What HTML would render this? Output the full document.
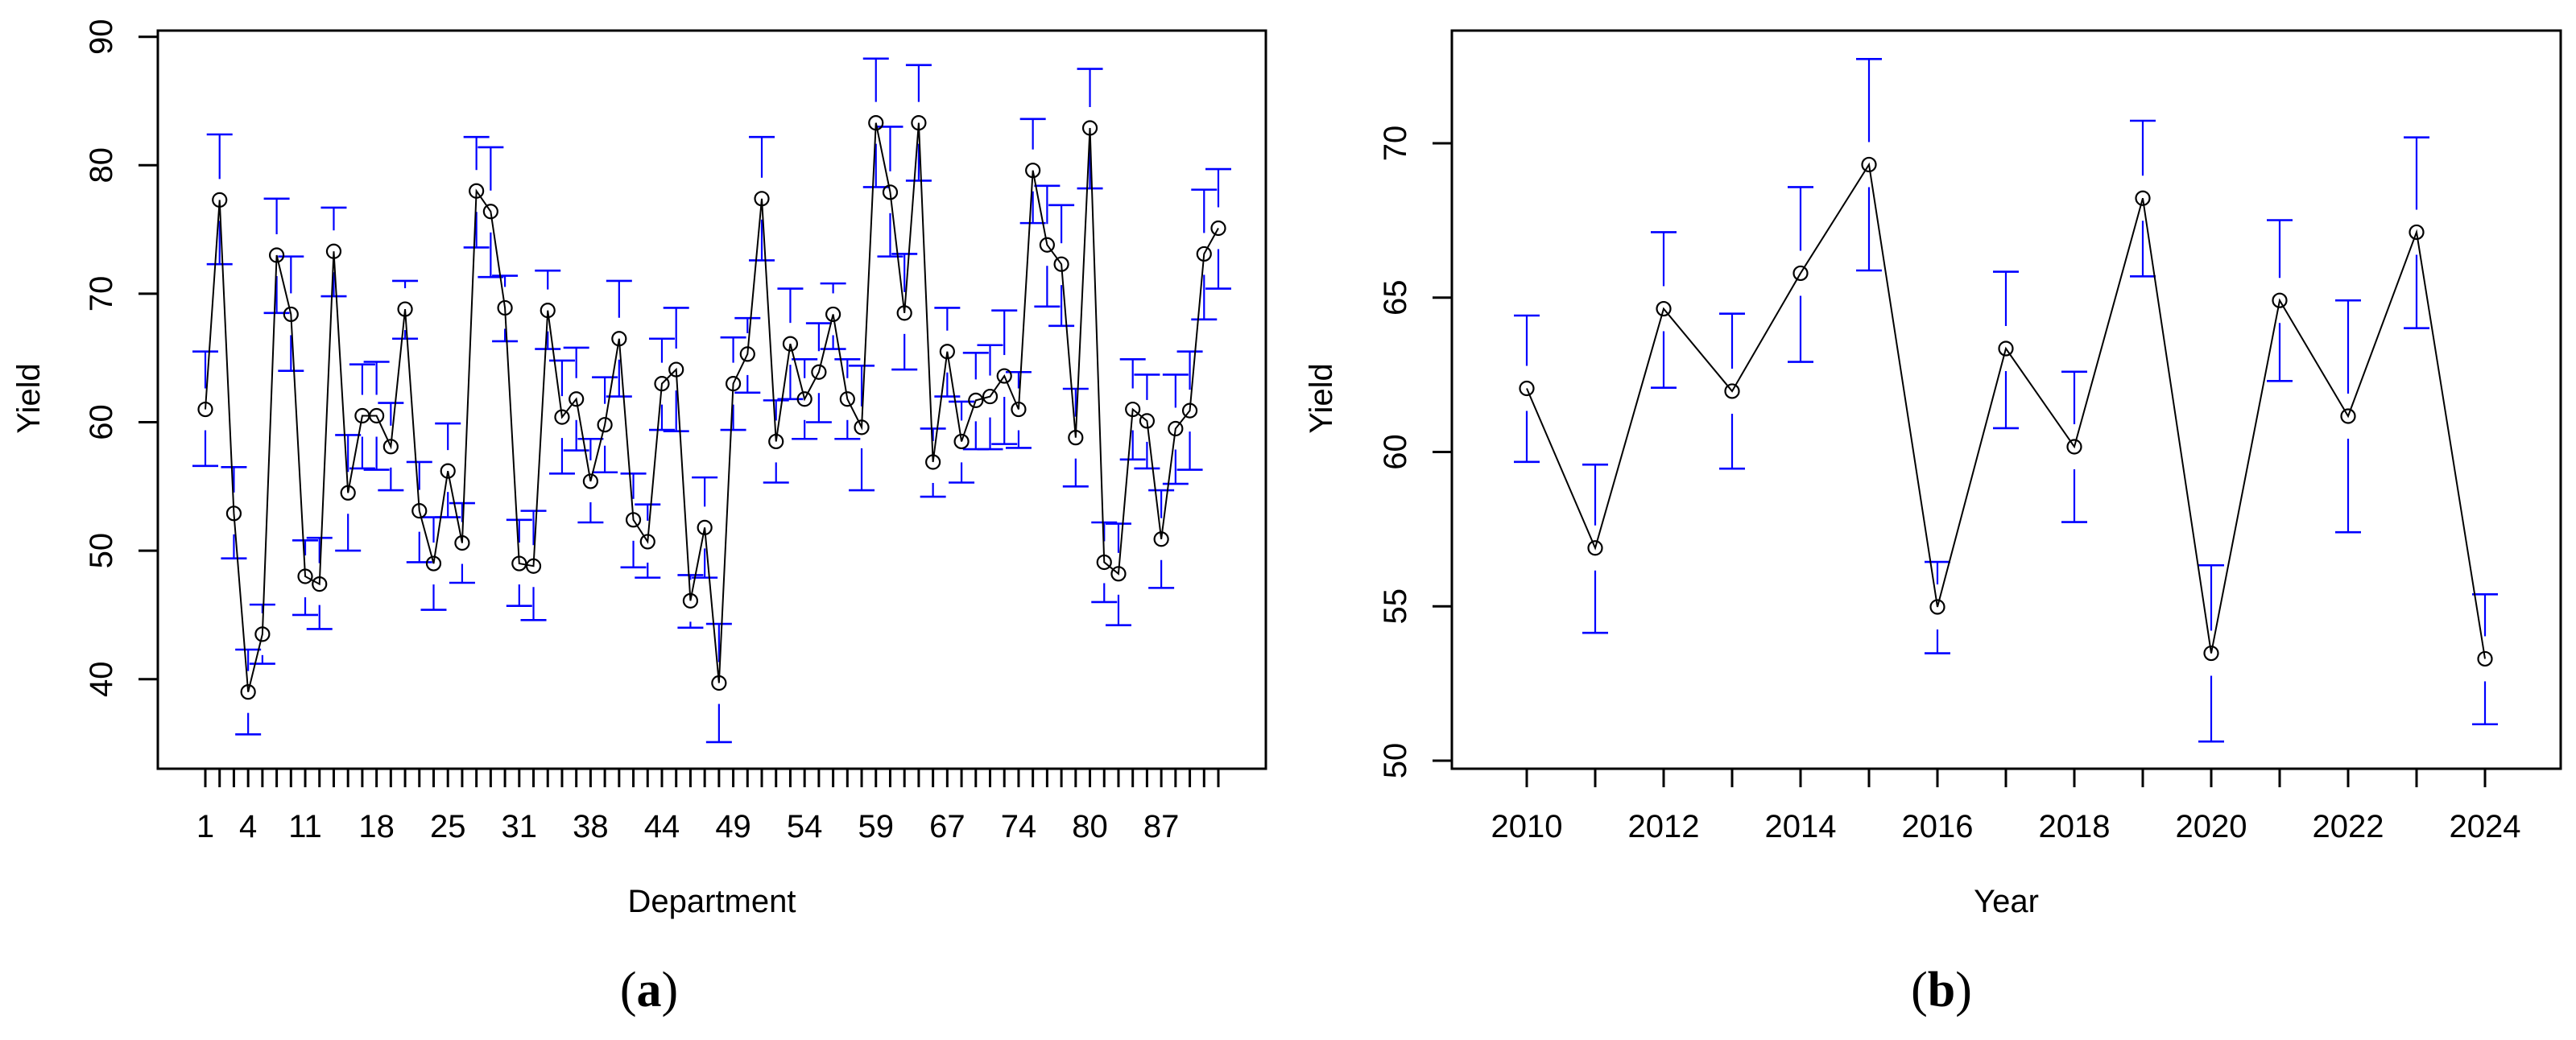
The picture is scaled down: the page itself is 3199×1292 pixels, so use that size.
<!DOCTYPE html>
<html><head><meta charset="utf-8"><style>
html,body{margin:0;padding:0;background:#fff;}
svg{display:block;font-family:"Liberation Sans",sans-serif;}
</style></head><body>
<svg id="fig" width="3199" height="1292" viewBox="0 0 3199 1292" xmlns="http://www.w3.org/2000/svg">
<g id="pa"></g>
<g id="pb"></g>
</svg>
<script>
// Panel (a): department yields
const deptTickIdx = [0,3,7,12,17,22,27,32,37,42,47,52,57,62,67];
const deptTickLabels = ["1","4","11","18","25","31","38","44","49","54","59","67","74","80","87"];
const deptMean = [61.0,77.3,52.9,39.0,43.5,73.0,68.4,48.0,47.4,73.3,54.5,60.5,60.5,58.1,68.8,53.1,49.0,56.2,50.6,78.0,76.4,68.9,49.0,48.8,68.7,60.4,61.8,55.4,59.8,66.5,52.4,50.7,63.0,64.1,46.1,51.8,39.7,63.0,65.3,77.4,58.5,66.1,61.8,63.9,68.4,61.8,59.6,83.3,77.9,68.5,83.3,56.9,65.5,58.5,61.7,62.0,63.6,61.0,79.6,73.8,72.3,58.8,82.9,49.1,48.2,61.0,60.1,50.9,59.5,60.9,73.1,75.1];
const deptUpper = [65.5,82.4,56.5,42.3,45.8,77.4,72.9,50.8,51.0,76.7,59.0,64.5,64.7,61.5,71.0,56.9,52.6,59.9,53.7,82.2,81.4,71.4,52.4,53.1,71.8,64.8,65.8,58.7,63.5,71.0,56.0,53.6,66.5,68.9,48.1,55.7,44.3,66.6,68.1,82.2,61.7,70.4,64.9,67.7,70.8,64.9,64.4,88.3,83.0,73.1,87.8,59.5,68.9,61.6,65.4,66.0,68.7,63.9,83.6,78.4,76.9,62.6,87.5,52.2,52.1,64.9,63.7,54.7,63.7,65.5,78.1,79.7];
const deptLower = [56.6,72.3,49.4,35.7,41.2,68.5,64.0,45.0,43.9,69.8,50.0,56.4,56.3,54.7,66.5,49.1,45.4,52.6,47.5,73.6,71.3,66.3,45.7,44.6,65.7,56.0,57.8,52.2,56.1,62.0,48.7,47.9,59.4,59.3,44.0,47.9,35.1,59.4,62.3,72.6,55.3,61.8,58.7,60.0,65.7,58.7,54.7,78.3,72.9,64.1,78.8,54.2,62.0,55.3,57.9,57.9,58.3,58.0,75.5,69.0,67.5,55.0,78.2,46.0,44.2,57.1,56.4,47.1,55.2,56.3,68.0,70.4];
const yTicksA = [40,50,60,70,80,90];

// Panel (b): yearly yields
const years = [2010,2011,2012,2013,2014,2015,2016,2017,2018,2019,2020,2021,2022,2023,2024];
const yearLabels = ["2010","2012","2014","2016","2018","2020","2022","2024"];
const yearMean = [62.06,56.89,64.64,61.97,65.79,69.31,54.98,63.35,60.17,68.22,53.48,64.91,61.16,67.12,53.3];
const yearUpper = [64.42,59.59,67.12,64.48,68.58,72.73,56.44,65.84,62.6,70.73,56.33,67.51,64.91,70.19,55.39];
const yearLower = [59.68,54.14,62.08,59.46,62.92,65.88,53.48,60.77,57.73,65.69,50.62,62.3,57.4,64.01,51.18];
const yTicksB = [50,55,60,65,70];

const NS="http://www.w3.org/2000/svg";
function mk(parent,tag,attrs,text){const e=document.createElementNS(NS,tag);for(const k in attrs)e.setAttribute(k,attrs[k]);if(text!==undefined)e.textContent=text;parent.appendChild(e);return e;}

function drawPanel(g,cfg){
  const {box,xScale,yScale,n,mean,up,lo,yTicks,xLabIdx,xLabs,xTitle,yLabX,yTitleX,tag,tagX,gap}=cfg;
  const frame=mk(g,'rect',{x:box.l,y:box.t,width:box.r-box.l,height:box.b-box.t,fill:'none',stroke:'#000','stroke-width':3});
  
  
  yTicks.forEach(v=>{
    const y=yScale(v);
    const t=mk(g,'line',{x1:box.l-24,x2:box.l,y1:y,y2:y,stroke:'#000','stroke-width':3});
    
    
    const lb=mk(g,'text',{x:yLabX,y:y,'font-size':40,'text-anchor':'middle','dominant-baseline':'central',transform:`rotate(-90 ${yLabX} ${y})`},String(v));
    
    
  });
  for(let i=0;i<n;i++){
    const x=xScale(i);
    const t=mk(g,'line',{x1:x,x2:x,y1:box.b,y2:box.b+23,stroke:'#000','stroke-width':3});
    
    
  }
  xLabIdx.forEach((i,k)=>{
    const lb=mk(g,'text',{x:xScale(i),y:1040,'font-size':40,'text-anchor':'middle'},xLabs[k]);
    
    
  });
  const xt=mk(g,'text',{x:(box.l+box.r)/2,y:1133,'font-size':40,'text-anchor':'middle'},xTitle);
  
  
  const yt=mk(g,'text',{x:yTitleX,y:495,'font-size':40,'text-anchor':'middle','dominant-baseline':'central',transform:`rotate(-90 ${yTitleX} 495)`},'Yield');
  
  
  const tg=mk(g,'text',{x:tagX,y:1250,'font-size':62,'text-anchor':'middle','font-family':'Liberation Serif, serif'});
  
  
  mk(tg,'tspan',{},'(');mk(tg,'tspan',{'font-weight':'bold'},tag);mk(tg,'tspan',{},')');
  for(let i=0;i<n;i++){
    const x=xScale(i),ym=yScale(mean[i]),yu=yScale(up[i]),yl=yScale(lo[i]);
    const eg=mk(g,'g',{stroke:'#0000ff'});
    
    
    if(ym-gap>yu) mk(eg,'line',{x1:x,x2:x,y1:yu,y2:ym-gap,'stroke-width':2.2});
    if(ym+gap<yl) mk(eg,'line',{x1:x,x2:x,y1:ym+gap,y2:yl,'stroke-width':2.2});
    mk(eg,'line',{x1:x-16,x2:x+16,y1:yu,y2:yu,'stroke-width':2.6});
    mk(eg,'line',{x1:x-16,x2:x+16,y1:yl,y2:yl,'stroke-width':2.6});
  }
  const pts=mean.map((v,i)=>xScale(i)+','+yScale(v)).join(' ');
  const pl=mk(g,'polyline',{points:pts,fill:'none',stroke:'#000','stroke-width':2});
  
  
  for(let i=0;i<n;i++){
    const c=mk(g,'circle',{cx:xScale(i),cy:yScale(mean[i]),r:8.5,fill:'none',stroke:'#000','stroke-width':2.2});
    
    
  }
}

drawPanel(document.getElementById('pa'),{
  box:{l:196,r:1572,t:38,b:955},
  xScale:i=>255+i*(1513-255)/71,
  yScale:v=>45.7+(90-v)*15.96,
  n:deptMean.length,mean:deptMean,up:deptUpper,lo:deptLower,
  yTicks:yTicksA,xLabIdx:deptTickIdx,xLabs:deptTickLabels,
  xTitle:'Department',yLabX:126,yTitleX:36,tag:'a',tagX:806,gap:26
});
drawPanel(document.getElementById('pb'),{
  box:{l:1803,r:3180,t:38,b:955},
  xScale:i=>1896+(years[i]-years[0])*85,
  yScale:v=>945-(v-50)*38.35,
  n:years.length,mean:yearMean,up:yearUpper,lo:yearLower,
  yTicks:yTicksB,xLabIdx:[0,2,4,6,8,10,12,14],xLabs:yearLabels,
  xTitle:'Year',yLabX:1733,yTitleX:1641,tag:'b',tagX:2411,gap:28
});
</script>
</body></html>
